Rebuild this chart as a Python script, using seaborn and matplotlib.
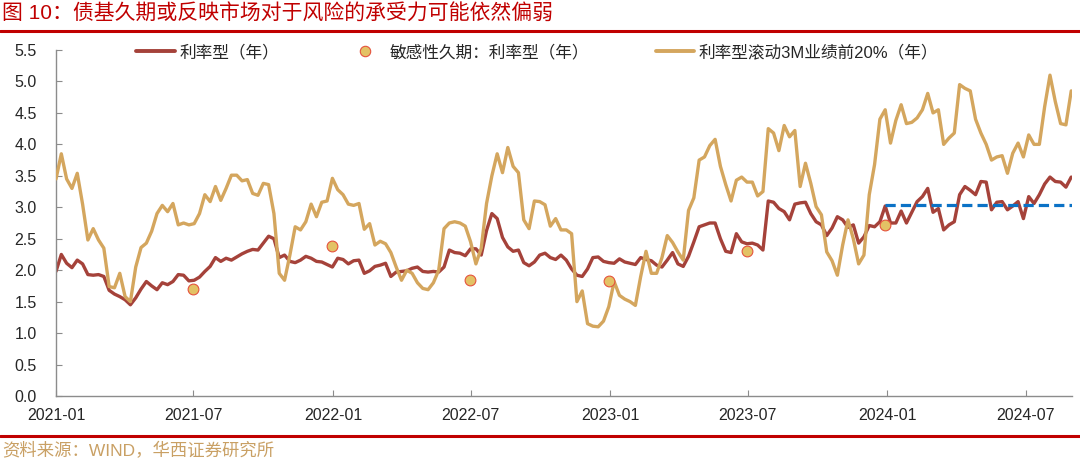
import matplotlib
matplotlib.use("Agg")
import matplotlib.pyplot as plt
import matplotlib.dates as mdates
from matplotlib.lines import Line2D
import numpy as np
import pandas as pd
import seaborn as sns

# weekly samples, 2021-01-01 .. 2024-08-30
dates = pd.date_range("2021-01-01", periods=192, freq="7D")

rate_vals = [
    1.98, 2.25, 2.11, 2.04, 2.16, 2.10, 1.93, 1.92, 1.93, 1.90,
    1.68, 1.62, 1.58, 1.53, 1.45, 1.56, 1.70, 1.82, 1.75, 1.69,
    1.80, 1.77, 1.82, 1.93, 1.92, 1.83, 1.84, 1.89, 1.98, 2.06,
    2.20, 2.14, 2.19, 2.16, 2.21, 2.26, 2.30, 2.33, 2.32, 2.43,
    2.54, 2.50, 2.20, 2.24, 2.14, 2.12, 2.16, 2.22,
    2.19, 2.14, 2.13, 2.09, 2.05, 2.19, 2.17, 2.10, 2.15, 2.16,
    1.95, 1.99, 2.06, 2.08, 2.11, 1.90, 1.97, 1.98, 1.99, 2.03,
    2.05, 1.98, 1.97, 1.98, 1.97, 2.05, 2.32, 2.28, 2.27, 2.23,
    2.34, 2.34, 2.24, 2.63, 2.90, 2.82, 2.52, 2.37, 2.30, 2.32,
    2.12, 2.07, 2.13, 2.24, 2.27, 2.20, 2.17, 2.24,
    2.16, 2.02, 1.92, 1.90, 2.02, 2.20, 2.21, 2.14, 2.12, 2.11,
    2.18, 2.13, 2.11, 2.09, 2.20, 2.17, 2.15, 2.08, 2.05, 2.16,
    2.28, 2.10, 2.06, 2.22, 2.45, 2.69, 2.72, 2.75, 2.75, 2.50,
    2.30, 2.28, 2.58, 2.45, 2.42, 2.43, 2.40, 2.32, 3.10, 3.08,
    2.98, 2.93, 2.80, 3.05, 3.07, 3.08, 2.90, 2.77,
    2.72, 2.55, 2.67, 2.85, 2.80, 2.68, 2.72, 2.43, 2.53, 2.71,
    2.69, 2.77, 3.02, 2.75, 2.75, 2.94, 2.75, 2.92, 3.09, 3.17,
    3.30, 2.92, 2.98, 2.64, 2.72, 2.77, 3.20, 3.33, 3.27, 3.20,
    3.41, 3.40, 2.96, 3.08, 3.09, 2.96, 3.02, 3.09, 2.82, 3.17,
    3.06, 3.20, 3.37, 3.48, 3.41, 3.40, 3.32, 3.48,
]

top20_vals = [
    3.45, 3.85, 3.45, 3.30, 3.54, 3.05, 2.48, 2.66, 2.48, 2.35,
    1.74, 1.72, 1.95, 1.58, 1.50, 2.05, 2.36, 2.43, 2.62, 2.90,
    3.03, 2.93, 3.06, 2.72, 2.75, 2.72, 2.74, 2.90, 3.20, 3.09,
    3.33, 3.11, 3.30, 3.51, 3.51, 3.42, 3.44, 3.22, 3.19, 3.38,
    3.36, 2.90, 1.95, 1.84, 2.24, 2.69, 2.64, 2.77,
    3.05, 2.85, 3.08, 3.10, 3.46, 3.28, 3.20, 3.05, 3.03, 3.06,
    2.65, 2.74, 2.40, 2.46, 2.42, 2.28, 2.05, 1.84, 2.00, 1.95,
    1.80, 1.71, 1.69, 1.80, 2.00, 2.66, 2.75, 2.77, 2.75, 2.70,
    2.45, 2.10, 2.35, 3.06, 3.50, 3.85, 3.55, 3.95, 3.65, 3.55,
    2.80, 2.66, 3.10, 3.09, 3.04, 2.70, 2.82, 2.64,
    2.64, 2.58, 1.50, 1.67, 1.15, 1.11, 1.10, 1.19, 1.42, 1.82,
    1.60, 1.54, 1.50, 1.44, 1.90, 2.30, 1.95, 1.95, 2.20, 2.55,
    2.44, 2.29, 2.16, 2.95, 3.15, 3.75, 3.80, 3.98, 4.08, 3.65,
    3.36, 3.10, 3.43, 3.48, 3.40, 3.40, 3.18, 3.25, 4.25, 4.18,
    3.90, 4.30, 4.12, 4.22, 3.33, 3.70, 3.38, 3.01,
    2.88, 2.29, 2.15, 1.92, 2.40, 2.80, 2.50, 2.10, 2.24, 3.20,
    3.68, 4.40, 4.55, 4.02, 4.38, 4.63, 4.33, 4.35, 4.42, 4.55,
    4.81, 4.50, 4.55, 4.00, 4.10, 4.18, 4.95, 4.89, 4.85, 4.40,
    4.18, 4.00, 3.75, 3.80, 3.82, 3.54, 3.86, 4.02, 3.80, 4.15,
    4.00, 4.00, 4.60, 5.10, 4.68, 4.33, 4.31, 4.85,
]

dot_dates = pd.to_datetime(["2021-06-30", "2021-12-31", "2022-06-30",
                            "2022-12-30", "2023-06-30", "2023-12-29"])
dot_vals = [1.70, 2.38, 1.84, 1.83, 2.31, 2.72]

dash_dates = pd.to_datetime(["2023-12-29", "2024-08-31"])
dash_vals = [3.03, 3.03]

labels = ["利率型（年）", "敏感性久期：利率型（年）", "利率型滚动3M业绩前20%（年）"]
x_ticks = pd.date_range("2021-01-01", "2024-07-01", freq="6MS")
y_ticks = np.arange(0, 5.51, 0.5)

RED = "#A5423A"
GOLD = "#D4A65E"
DOT = "#E3C265"
BLUE = "#0B72C6"
TITLE_RED = "#C00000"

sns.set_style("white")
plt.rcParams["font.family"] = ["Liberation Sans", "Noto Sans CJK SC"]

df = pd.DataFrame({"date": dates, "rate": rate_vals, "top20": top20_vals})

fig = plt.figure(figsize=(10.8, 4.61), dpi=100)
ax = fig.add_axes([56 / 1080, 1 - 396 / 461, (1072 - 56) / 1080, (396 - 50) / 461])

sns.lineplot(data=df, x="date", y="rate", ax=ax, color=RED, lw=2.4, zorder=2)
sns.lineplot(data=df, x="date", y="top20", ax=ax, color=GOLD, lw=2.4, zorder=3)
ax.plot(dash_dates, dash_vals, color=BLUE, lw=2.3, dashes=(3.2, 1.6), zorder=4)
sns.scatterplot(x=dot_dates, y=dot_vals, ax=ax, s=60, color=DOT,
                edgecolor="#E5533D", linewidth=0.8, zorder=5)

ax.set_xlim(pd.Timestamp("2021-01-01"), pd.Timestamp("2024-08-31"))
ax.set_ylim(0, 5.5)
ax.set_xticks(x_ticks)
ax.xaxis.set_major_formatter(mdates.DateFormatter("%Y-%m"))
ax.set_yticks(y_ticks)
ax.set_yticklabels([f"{v:.1f}" for v in y_ticks])
ax.set_xlabel("")
ax.set_ylabel("")

for s in ["top", "right"]:
    ax.spines[s].set_visible(False)
for s in ["left", "bottom"]:
    ax.spines[s].set_color("#8c8c8c")
    ax.spines[s].set_linewidth(1)
ax.tick_params(axis="y", direction="in", length=4, color="#8c8c8c",
               labelsize=11.5, pad=14, left=True)
ax.tick_params(axis="x", direction="in", length=4, color="#8c8c8c",
               labelsize=11.5, pad=9, bottom=True)

handles = [
    Line2D([], [], color=RED, lw=2.8),
    Line2D([], [], ls="", marker="o", markersize=7.5, markerfacecolor=DOT,
           markeredgecolor="#E5533D", markeredgewidth=0.8),
    Line2D([], [], color=GOLD, lw=2.8),
]
fig.legend(handles, labels, loc="center left", bbox_to_anchor=(128 / 1080, 1 - 52 / 461),
           ncol=3, frameon=False, fontsize=12, handlelength=2.3, borderpad=0,
           handletextpad=0.3, columnspacing=4.0)

fig.add_artist(Line2D([0, 1], [1 - 31.5 / 461] * 2, transform=fig.transFigure,
                      color=TITLE_RED, lw=2.2))
fig.add_artist(Line2D([0, 1], [1 - 436 / 461] * 2, transform=fig.transFigure,
                      color=TITLE_RED, lw=2.2))
fig.text(0.002, 1 - 14 / 461, "图 10：债基久期或反映市场对于风险的承受力可能依然偏弱",
         color=TITLE_RED, fontsize=15, va="center", ha="left")
fig.text(0.002, 1 - 451 / 461, "资料来源：WIND，华西证券研究所",
         color="#C9A064", fontsize=12.5, va="center", ha="left")

fig.savefig("out.png", dpi=100)
